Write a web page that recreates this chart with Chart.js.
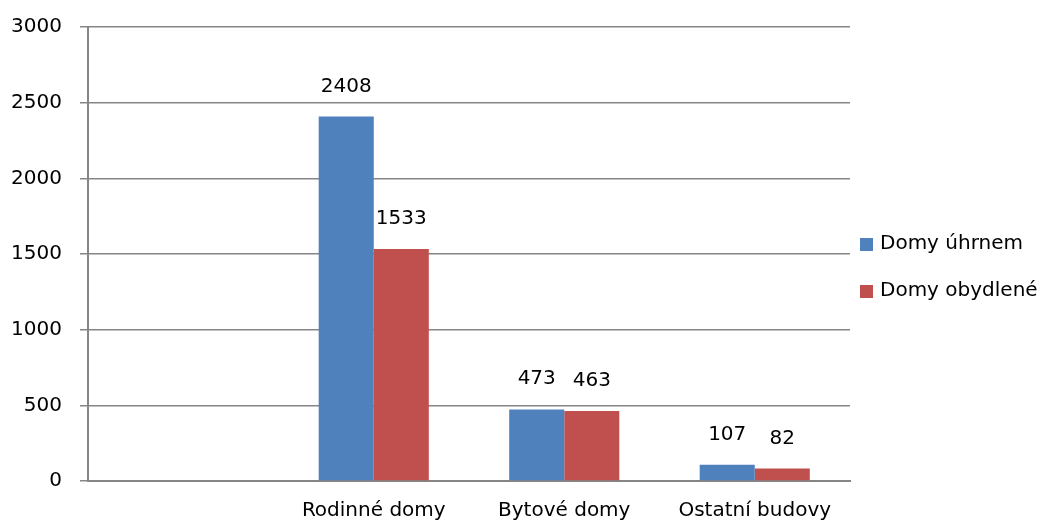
<!DOCTYPE html>
<html>
<head>
<meta charset="utf-8">
<script src="https://cdn.jsdelivr.net/npm/chart.js@4.4.1/dist/chart.umd.min.js"></script>
<style>
  html, body { margin: 0; padding: 0; background: #fff; }
  #graf { display: block; }
</style>
</head>
<body>
<canvas id="graf" width="1051" height="525"></canvas>
<script>
// Data z grafu
const kategorie = ['', 'Rodinné domy', 'Bytové domy', 'Ostatní budovy'];
const domyUhrnem = [null, 2408, 473, 107];
const domyObydlene = [null, 1533, 463, 82];
const nazvySerii = ['Domy úhrnem', 'Domy obydlené'];
const barvySerii = ['#4F81BD', '#C0504D'];
const osaYMax = 3000;
const osaYKrok = 500;

const pismo = 'DejaVu Sans';
const seda = '#868686';

// Popisky hodnot nad sloupci
const popiskyHodnot = {
  id: 'popiskyHodnot',
  afterDatasetsDraw(chart) {
    const ctx = chart.ctx;
    ctx.save();
    ctx.font = '20px "' + pismo + '"';
    ctx.fillStyle = '#000';
    ctx.textAlign = 'center';
    ctx.textBaseline = 'alphabetic';
    chart.data.datasets.forEach((ds, i) => {
      chart.getDatasetMeta(i).data.forEach((bar, j) => {
        const v = ds.data[j];
        if (v === null || v === undefined) return;
        ctx.fillText(String(v), bar.x, bar.y - 25);
      });
    });
    ctx.restore();
  }
};

// Legenda vpravo (vlastni, kvuli presnemu rozestupu)
const legendaVpravo = {
  id: 'legendaVpravo',
  afterDraw(chart) {
    const ctx = chart.ctx;
    const x = chart.chartArea.right + 10;
    let y = 244;
    ctx.save();
    ctx.font = '20px "' + pismo + '"';
    ctx.textBaseline = 'middle';
    ctx.textAlign = 'left';
    chart.data.datasets.forEach((ds) => {
      ctx.fillStyle = ds.backgroundColor;
      ctx.fillRect(x, y - 6, 13, 13);
      ctx.fillStyle = '#000';
      ctx.fillText(ds.label, x + 20, y);
      y += 47;
    });
    ctx.restore();
  }
};

new Chart(document.getElementById('graf').getContext('2d'), {
  type: 'bar',
  data: {
    labels: kategorie,
    datasets: [
      {
        label: nazvySerii[0],
        data: domyUhrnem,
        backgroundColor: barvySerii[0],
        borderWidth: 0
      },
      {
        label: nazvySerii[1],
        data: domyObydlene,
        backgroundColor: barvySerii[1],
        borderWidth: 0
      }
    ]
  },
  options: {
    responsive: false,
    animation: false,
    categoryPercentage: 0.578,
    barPercentage: 1,
    layout: {
      padding: { top: 27, right: 201, bottom: 0, left: 0 }
    },
    plugins: {
      tooltip: { enabled: false },
      legend: { display: false }
    },
    scales: {
      x: {
        afterFit(scale) { scale.height = 44; },
        grid: { display: false, drawTicks: false },
        border: { display: true, color: seda, width: 2 },
        ticks: {
          color: '#000',
          padding: 18,
          maxRotation: 0,
          font: { family: pismo, size: 20 }
        }
      },
      y: {
        min: 0,
        max: osaYMax,
        afterFit(scale) {
          scale.width = 88;
          scale.paddingTop = 0;
          scale.paddingBottom = 0;
        },
        grid: { color: seda, lineWidth: 1.5, tickLength: 8 },
        border: { display: true, color: seda, width: 2 },
        ticks: {
          stepSize: osaYKrok,
          color: '#000',
          padding: 18,
          font: { family: pismo, size: 20 },
          callback: (v) => String(v)
        }
      }
    }
  },
  plugins: [popiskyHodnot, legendaVpravo]
});
</script>
</body>
</html>
